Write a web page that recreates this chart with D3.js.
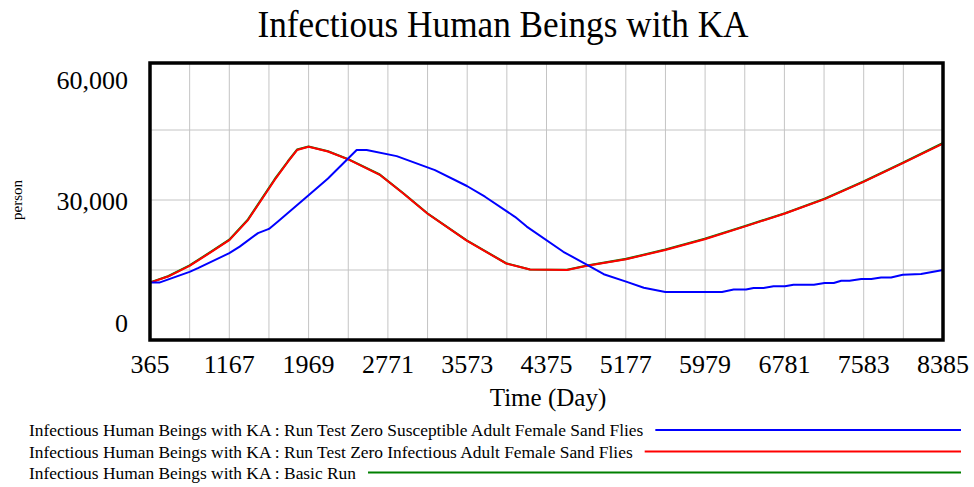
<!DOCTYPE html>
<html>
<head>
<meta charset="utf-8">
<script src="https://cdn.jsdelivr.net/npm/d3@7"></script>
<style>
  html, body { margin: 0; padding: 0; background: #fff; }
  svg { display: block; font-family: "Liberation Serif", "Times New Roman", serif; }
</style>
</head>
<body>
<svg id="chart" width="974" height="487"></svg>
<script>
// Simulation output (Day → person)
const xTickLabels = [365, 1167, 1969, 2771, 3573, 4375, 5177, 5979, 6781, 7583, 8385];
const yTickLabels = [0, 30000, 60000];

const blueTimes = [365, 459, 765, 850, 1167, 1272, 1457, 1568, 1659, 1969, 2165, 2455, 2556, 2860, 3247, 3570, 3753, 4056, 4175, 4545, 4786, 4954, 5180, 5359, 5577, 6150, 6268, 6393, 6469, 6570, 6671, 6787, 6873, 7080, 7187, 7280, 7356, 7440, 7558, 7660, 7759, 7860, 7978, 8163, 8385];
const blueValues = [12300, 12300, 14600, 15400, 18600, 20000, 22900, 23800, 25400, 31000, 34600, 40700, 40700, 39400, 36400, 33000, 30700, 26400, 24300, 18900, 16100, 14100, 12500, 11200, 10300, 10300, 10800, 10800, 11150, 11150, 11500, 11500, 11850, 11850, 12200, 12200, 12700, 12700, 13050, 13050, 13400, 13400, 14000, 14150, 15000];

const redTimes = [365, 547, 765, 951, 1167, 1356, 1491, 1626, 1760, 1852, 1969, 2165, 2370, 2689, 2927, 3170, 3568, 3966, 4208, 4583, 4786, 5180, 5577, 5975, 6393, 6787, 7187, 7581, 7979, 8385];
const redValues = [12300, 13600, 15900, 18400, 21400, 25700, 30000, 34300, 38200, 40700, 41400, 40400, 38700, 35400, 31400, 27100, 21300, 16400, 15100, 15000, 15900, 17300, 19300, 21600, 24400, 27100, 30200, 33900, 37900, 42100];

const greenTimes = [365, 547, 765, 951, 1167, 1356, 1491, 1626, 1760, 1852, 1969, 2165, 2370, 2689, 2927, 3170, 3568, 3966, 4208, 4583, 4786, 5180, 5577, 5975, 6393, 6787, 7187, 7581, 7979, 8385];
const greenValues = [12300, 13650, 16000, 18500, 21500, 25850, 30150, 34450, 38300, 40800, 41450, 40450, 38750, 35450, 31450, 27150, 21350, 16450, 15100, 15050, 15950, 17380, 19380, 21680, 24480, 27180, 30280, 33980, 37980, 42200];

const seriesNames = [
  "Infectious Human Beings with KA : Run Test Zero Susceptible Adult Female Sand Flies",
  "Infectious Human Beings with KA : Run Test Zero Infectious Adult Female Sand Flies",
  "Infectious Human Beings with KA : Basic Run"
];
const seriesColors = ["#0000ff", "#ff0000", "#008000"];

const svg = d3.select("#chart");
const plotLeft = 150, plotRight = 943, plotTop = 63, plotBottom = 340;

const x = d3.scaleLinear().domain([365, 8385]).range([plotLeft, plotRight]);
const y = d3.scaleLinear().domain([0, 60000]).range([plotBottom, 60]);

// grid
const xGrid = d3.range(0, 21).map(i => 365 + i * 401);
svg.append("g").selectAll("line").data(xGrid.slice(1, -1)).join("line")
  .attr("x1", d => x(d)).attr("x2", d => x(d))
  .attr("y1", plotTop).attr("y2", plotBottom)
  .attr("stroke", "#c4c4c4").attr("stroke-width", 1);
svg.append("g").selectAll("line").data([15000, 30000, 45000]).join("line")
  .attr("x1", plotLeft).attr("x2", plotRight)
  .attr("y1", d => y(d)).attr("y2", d => y(d))
  .attr("stroke", "#c4c4c4").attr("stroke-width", 1);

// series
const line = d3.line().x(d => x(d[0])).y(d => y(d[1]));
const zip = (t, v) => t.map((d, i) => [d, v[i]]);
const drawOrder = [
  { pts: zip(greenTimes, greenValues), color: seriesColors[2], w: 2.1 },
  { pts: zip(redTimes, redValues), color: seriesColors[1], w: 2 },
  { pts: zip(blueTimes, blueValues), color: seriesColors[0], w: 2 }
];
drawOrder.forEach(s => {
  svg.append("path").attr("d", line(s.pts))
    .attr("fill", "none").attr("stroke", s.color)
    .attr("stroke-width", s.w).attr("stroke-linejoin", "round");
});

// frame
svg.append("rect").attr("x", plotLeft).attr("y", plotTop)
  .attr("width", plotRight - plotLeft).attr("height", plotBottom - plotTop)
  .attr("fill", "none").attr("stroke", "#000").attr("stroke-width", 3.5);

// x axis labels
svg.append("g").selectAll("text").data(xTickLabels).join("text")
  .attr("x", d => x(d)).attr("y", 373)
  .attr("text-anchor", "middle").attr("font-size", 26)
  .text(d => d);

// y axis labels (top label sits inside the frame, bottom label raised)
const yLabelBaseline = { 60000: 89, 30000: 210, 0: 332 };
svg.append("g").selectAll("text").data(yTickLabels).join("text")
  .attr("x", 128).attr("y", d => yLabelBaseline[d])
  .attr("text-anchor", "end").attr("font-size", 26)
  .text(d => d3.format(",")(d));

// axis titles
svg.append("text").attr("x", 548).attr("y", 406)
  .attr("text-anchor", "middle").attr("font-size", 25).text("Time (Day)");
svg.append("text").attr("transform", "translate(22,200) rotate(-90)")
  .attr("text-anchor", "middle").attr("font-size", 15).text("person");

// title
svg.append("text").attr("x", 503).attr("y", 37)
  .attr("text-anchor", "middle").attr("font-size", 37)
  .attr("textLength", 491).attr("lengthAdjust", "spacingAndGlyphs")
  .text("Infectious Human Beings with KA");

// legend
const legendBase = [436, 457.5, 478.5];
seriesNames.forEach((name, i) => {
  const t = svg.append("text").attr("x", 29).attr("y", legendBase[i])
    .attr("font-size", 17.4).text(name);
  const w = t.node().getComputedTextLength();
  svg.append("line")
    .attr("x1", 29 + w + 12).attr("x2", 961)
    .attr("y1", legendBase[i] - 6).attr("y2", legendBase[i] - 6)
    .attr("stroke", seriesColors[i]).attr("stroke-width", 2);
});
</script>
</body>
</html>
